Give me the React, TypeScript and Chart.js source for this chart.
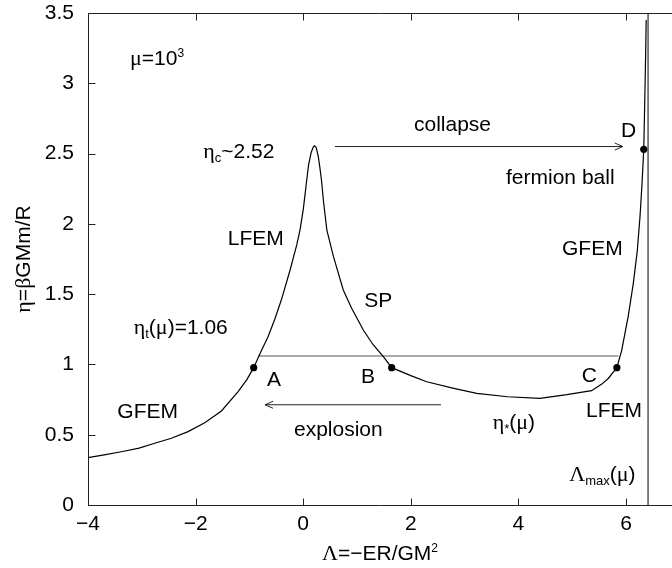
import React, { useEffect, useRef } from "react";
import { Chart, registerables } from "chart.js";

Chart.register(...registerables);

// ---------- data ----------
const curveLambda = [
  -4.0, -3.7, -3.38, -3.05, -2.76, -2.45, -2.14, -1.83, -1.52, -1.21, -1.05, -0.92,
  -0.8, -0.654, -0.53, -0.407, -0.245, -0.12, -0.06, 0.0, 0.035, 0.065, 0.1, 0.15,
  0.19, 0.21, 0.24, 0.28, 0.31, 0.34, 0.38, 0.44, 0.56, 0.745, 0.9, 1.117, 1.3, 1.49,
  1.645, 2.0, 2.295, 2.8, 3.225, 3.8, 4.4, 4.9, 5.36, 5.55, 5.67, 5.83, 5.92, 6.04,
  6.136, 6.21, 6.26, 6.3, 6.33, 6.35, 6.365, 6.375,
];
const curveEta = [
  0.337, 0.356, 0.379, 0.405, 0.439, 0.475, 0.522, 0.585, 0.669, 0.806, 0.89, 0.977,
  1.08, 1.197, 1.32, 1.458, 1.67, 1.85, 1.956, 2.1, 2.21, 2.31, 2.42, 2.51,
  2.55, 2.555, 2.545, 2.48, 2.4, 2.31, 2.15, 1.956, 1.77, 1.53, 1.4, 1.245, 1.14, 1.055,
  0.977, 0.92, 0.877, 0.83, 0.794, 0.77, 0.759, 0.785, 0.813, 0.86, 0.9, 0.977, 1.1, 1.34,
  1.577, 1.81, 2.05, 2.3, 2.53, 2.9, 3.2, 3.45,
];
const markLambda = [-0.92, 1.645, 5.83, 6.33]; // A, B, C, D
const markEta = [0.977, 0.977, 0.977, 2.53];
const etaT = 1.06;
const etaTLambda = [-0.84, 5.86];
const lambdaMax = 6.41;
const lambdaMaxEta = [0, 3.5];
const collapseLambda = [0.59, 5.94];
const collapseEta = 2.55;
const explosionLambda = [2.56, -0.71];
const explosionEta = 0.713;
const xTicks = [-4, -2, 0, 2, 4, 6];
const yTicks = [0, 0.5, 1, 1.5, 2, 2.5, 3, 3.5];

// ---------- text ----------
type Seg = { t: string; g?: boolean; sub?: boolean; sup?: boolean };
const annotations: { x: number; y: number; segs: Seg[] }[] = [
  { x: -3.22, y: 3.13, segs: [{ t: "μ", g: true }, { t: "=10" }, { t: "3", sup: true }] },
  { x: -1.857, y: 2.466, segs: [{ t: "η", g: true }, { t: "c", sub: true }, { t: "~2.52" }] },
  { x: 2.059, y: 2.662, segs: [{ t: "collapse" }] },
  { x: 5.907, y: 2.62, segs: [{ t: "D" }] },
  { x: 3.77, y: 2.281, segs: [{ t: "fermion ball" }] },
  { x: 4.81, y: 1.778, segs: [{ t: "GFEM" }] },
  { x: -1.403, y: 1.85, segs: [{ t: "LFEM" }] },
  { x: 1.136, y: 1.411, segs: [{ t: "SP" }] },
  { x: -3.15, y: 1.216, segs: [{ t: "η", g: true }, { t: "t", sub: true }, { t: "(" }, { t: "μ", g: true }, { t: ")=1.06" }] },
  { x: -0.673, y: 0.849, segs: [{ t: "A" }] },
  { x: 1.074, y: 0.868, segs: [{ t: "B" }] },
  { x: 5.176, y: 0.873, segs: [{ t: "C" }] },
  { x: -3.455, y: 0.617, segs: [{ t: "GFEM" }] },
  { x: -0.171, y: 0.493, segs: [{ t: "explosion" }] },
  { x: 5.256, y: 0.624, segs: [{ t: "LFEM" }] },
  { x: 3.522, y: 0.544, segs: [{ t: "η", g: true }, { t: "*", sub: true }, { t: "(" }, { t: "μ", g: true }, { t: ")" }] },
  { x: 4.946, y: 0.173, segs: [{ t: "Λ", g: true }, { t: "max", sub: true }, { t: "(" }, { t: "μ", g: true }, { t: ")" }] },
];
const xTitle: Seg[] = [{ t: "Λ", g: true }, { t: "=−ER/GM" }, { t: "2", sup: true }];
const yTitle: Seg[] = [{ t: "η", g: true }, { t: "=" }, { t: "β", g: true }, { t: "GMm/R" }];

const SANS = '"Liberation Sans", Arial, Helvetica, sans-serif';
const SERIF = '"Liberation Serif", "DejaVu Serif", serif';
const FS = 21;

function segFont(s: Seg) {
  const small = s.sub || s.sup;
  const size = s.sup ? 12 : small ? 13 : s.g ? FS + 1 : FS;
  return `${size}px ${s.g && !small ? SERIF : SANS}`;
}
function measureRich(ctx: CanvasRenderingContext2D, segs: Seg[]) {
  let w = 0;
  for (const s of segs) {
    ctx.font = segFont(s);
    w += ctx.measureText(s.t).width;
  }
  return w;
}
function drawRich(ctx: CanvasRenderingContext2D, x: number, y: number, segs: Seg[]) {
  let cx = x;
  for (const s of segs) {
    ctx.font = segFont(s);
    const dy = s.sub ? 4 : s.sup ? -8 : 0;
    ctx.fillText(s.t, cx, y + dy);
    cx += ctx.measureText(s.t).width;
  }
}

const fmt = (v: number) => (v < 0 ? "\u2212" + Math.abs(v) : String(v));

const decor = {
  id: "decor",
  afterDatasetsDraw(chart: any) {
    const { ctx, chartArea, scales } = chart;
    const { left, top, bottom, right } = chartArea;
    const xs = scales.x;
    const ys = scales.y;
    ctx.save();
    // frame
    ctx.strokeStyle = "#222";
    ctx.lineWidth = 1;
    const L = Math.round(left) + 0.5;
    const T = Math.round(top) + 0.5;
    const B = Math.round(bottom) + 0.5;
    ctx.beginPath();
    ctx.moveTo(right, T);
    ctx.lineTo(L, T);
    ctx.lineTo(L, B);
    ctx.lineTo(right, B);
    ctx.stroke();
    // inward ticks
    ctx.beginPath();
    for (const v of xTicks) {
      const px = Math.round(xs.getPixelForValue(v)) + 0.5;
      ctx.moveTo(px, T);
      ctx.lineTo(px, T + 7);
      ctx.moveTo(px, B);
      ctx.lineTo(px, B - 7);
    }
    for (const v of yTicks) {
      const py = Math.round(ys.getPixelForValue(v)) + 0.5;
      ctx.moveTo(L, py);
      ctx.lineTo(L + 7, py);
    }
    ctx.stroke();
    // arrowheads
    const head = (tipX: number, tipY: number, dir: number) => {
      ctx.beginPath();
      ctx.moveTo(tipX - dir * 8, tipY - 3.5);
      ctx.lineTo(tipX, tipY);
      ctx.lineTo(tipX - dir * 8, tipY + 3.5);
      ctx.stroke();
    };
    ctx.strokeStyle = "#222";
    head(xs.getPixelForValue(collapseLambda[1]), ys.getPixelForValue(collapseEta), 1);
    head(xs.getPixelForValue(explosionLambda[1]), ys.getPixelForValue(explosionEta), -1);
    // annotations
    ctx.fillStyle = "#000";
    ctx.textBaseline = "alphabetic";
    ctx.textAlign = "left";
    for (const a of annotations) {
      drawRich(ctx, xs.getPixelForValue(a.x), ys.getPixelForValue(a.y), a.segs);
    }
    // x title
    const cx = (left + right) / 2;
    const wx = measureRich(ctx, xTitle);
    drawRich(ctx, cx - wx / 2, bottom + 55, xTitle);
    // y title
    const cy = (top + bottom) / 2;
    const wy = measureRich(ctx, yTitle);
    ctx.translate(30, cy);
    ctx.rotate(-Math.PI / 2);
    drawRich(ctx, -wy / 2, 0, yTitle);
    ctx.restore();
  },
};

export default function App() {
  const ref = useRef<HTMLCanvasElement | null>(null);
  useEffect(() => {
    document.body.style.margin = "0";
    const canvas = ref.current;
    if (!canvas) return;
    const line = (data: { x: number; y: number }[], color: string, width: number) => ({
      data,
      showLine: true,
      borderColor: color,
      borderWidth: width,
      pointRadius: 0,
      tension: 0,
      fill: false,
    });
    const chart = new Chart(canvas, {
      type: "scatter",
      data: {
        datasets: [
          line(curveLambda.map((x, i) => ({ x, y: curveEta[i] })), "#000", 1.2),
          line(etaTLambda.map((x) => ({ x, y: etaT })), "#555", 1),
          line(lambdaMaxEta.map((y) => ({ x: lambdaMax, y })), "#000", 1),
          line(collapseLambda.map((x) => ({ x, y: collapseEta })), "#222", 1),
          line(explosionLambda.map((x) => ({ x, y: explosionEta })), "#222", 1),
          {
            data: markLambda.map((x, i) => ({ x, y: markEta[i] })),
            showLine: false,
            pointRadius: 3.6,
            pointBackgroundColor: "#000",
            pointBorderWidth: 0,
          },
        ] as any,
      },
      options: {
        animation: false,
        responsive: false,
        devicePixelRatio: 1,
        layout: { autoPadding: false, padding: { top: 13, left: 0, right: 0, bottom: 0 } },
        plugins: { legend: { display: false }, tooltip: { enabled: false } },
        scales: {
          x: {
            type: "linear",
            min: -4,
            max: 6.855,
            grid: { display: false, drawTicks: false },
            border: { display: false },
            ticks: {
              font: { family: SANS, size: FS },
              color: "#000",
              padding: 7,
              maxRotation: 0,
              autoSkip: false,
              callback: (v: any) => fmt(Number(v)),
            },
            afterBuildTicks: (s: any) => {
              s.ticks = xTicks.map((v) => ({ value: v }));
            },
            afterFit: (s: any) => {
              s.height = 63;
              s.paddingLeft = 0;
              s.paddingRight = 0;
              s.paddingTop = 0;
              s.paddingBottom = 0;
            },
          },
          y: {
            type: "linear",
            min: 0,
            max: 3.5,
            grid: { display: false, drawTicks: false },
            border: { display: false },
            ticks: {
              font: { family: SANS, size: FS },
              color: "#000",
              padding: 14,
              autoSkip: false,
              callback: (v: any) => String(Number(v)),
            },
            afterBuildTicks: (s: any) => {
              s.ticks = yTicks.map((v) => ({ value: v }));
            },
            afterFit: (s: any) => {
              s.width = 88;
              s.paddingLeft = 0;
              s.paddingRight = 0;
              s.paddingTop = 0;
              s.paddingBottom = 0;
            },
          },
        },
      } as any,
      plugins: [decor],
    });
    return () => chart.destroy();
  }, []);
  return (
    <div style={{ width: 672, height: 568 }}>
      <canvas ref={ref} width={672} height={568} style={{ display: "block" }} />
    </div>
  );
}
